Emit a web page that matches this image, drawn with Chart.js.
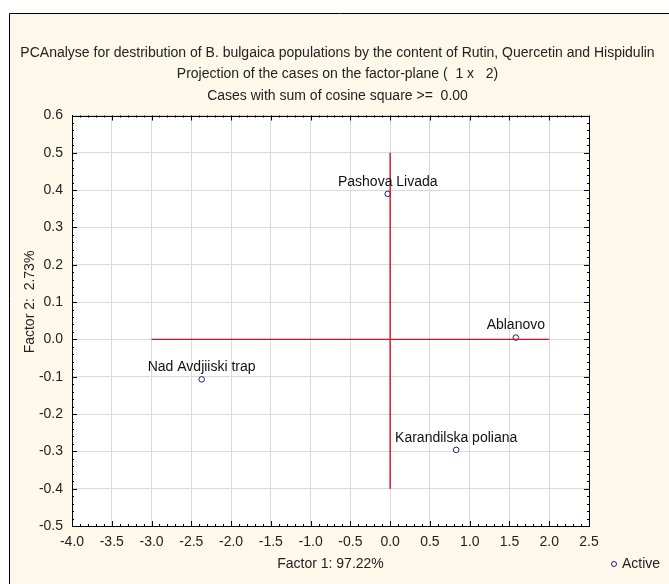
<!DOCTYPE html>
<html>
<head>
<meta charset="utf-8">
<script src="https://cdn.jsdelivr.net/npm/chart.js@4/dist/chart.umd.min.js"></script>
<style>
  html, body { margin: 0; padding: 0; background: #ffffff; }
  #wrap { width: 669px; height: 584px; position: relative; }
</style>
</head>
<body>
<div id="wrap"><canvas id="c" width="669" height="584"></canvas></div>
<script>
// Case names and their factor coordinates
const caseNames = ['Pashova Livada', 'Ablanovo', 'Nad Avdjiiski trap', 'Karandilska poliana'];
const factor1 = [-0.03, 1.58, -2.37, 0.83];
const factor2 = [0.39, 0.005, -0.107, -0.296];

// Reference cross through the origin
const crossX = [-3.0, 2.0];
const crossY = [-0.4, 0.5];

const titleLines = [
  'PCAnalyse for destribution of B. bulgaica populations by the content of Rutin, Quercetin and Hispidulin',
  'Projection of the cases on the factor-plane (  1 x   2)',
  'Cases with sum of cosine square >=  0.00'
];
const xTitle = 'Factor 1: 97.22%';
const yTitle = 'Factor 2:  2.73%';
const legendLabel = 'Active';

const FONT = 'Arial, "Liberation Sans", sans-serif';
const FSIZE = 14;
const pointColor = '#1c1c8a';
const crossColor = '#d4102a';

const casePoints = factor1.map((v, i) => ({ x: v, y: factor2[i] }));

// Page frame, cream panel and white plot area
const framePlugin = {
  id: 'frame',
  beforeDraw(chart) {
    const ctx = chart.ctx, a = chart.chartArea;
    ctx.save();
    ctx.fillStyle = '#ffffff';
    ctx.fillRect(0, 0, chart.width, chart.height);
    ctx.fillStyle = '#fdf8ea';
    ctx.fillRect(9, 13, chart.width - 9, chart.height - 13);
    ctx.strokeStyle = '#000';
    ctx.lineWidth = 1;
    ctx.beginPath();
    ctx.moveTo(9.5, chart.height);
    ctx.lineTo(9.5, 13.5);
    ctx.lineTo(chart.width, 13.5);
    ctx.stroke();
    ctx.fillStyle = '#ffffff';
    ctx.fillRect(a.left, a.top, a.right - a.left, a.bottom - a.top);
    ctx.restore();
  },
  afterDraw(chart) {
    const ctx = chart.ctx, a = chart.chartArea;
    const xs = chart.scales.x, ys = chart.scales.y;
    ctx.save();
    ctx.strokeStyle = '#000';
    ctx.lineWidth = 1;
    ctx.strokeRect(Math.round(a.left) + 0.5, Math.round(a.top) + 0.5,
      Math.round(a.right - a.left), Math.round(a.bottom - a.top));
    // major and minor tick marks on all four sides
    ctx.beginPath();
    for (let k = 0; k <= 65; k++) {
      const v = -4 + k * 0.1;
      const px = Math.round(xs.getPixelForValue(v)) + 0.5;
      const len = k % 5 === 0 ? 5 : 2;
      ctx.moveTo(px, a.bottom); ctx.lineTo(px, a.bottom - len);
      ctx.moveTo(px, a.top); ctx.lineTo(px, a.top + len);
    }
    for (let k = 0; k <= 55; k++) {
      const v = -0.5 + k * 0.02;
      const py = Math.round(ys.getPixelForValue(v)) + 0.5;
      const len = k % 5 === 0 ? 5 : 2;
      ctx.moveTo(a.left, py); ctx.lineTo(a.left + len, py);
      ctx.moveTo(a.right, py); ctx.lineTo(a.right - len, py);
    }
    ctx.stroke();

    ctx.font = FSIZE + 'px ' + FONT;
    ctx.fillStyle = '#222';
    ctx.textBaseline = 'middle';

    // vertical axis title
    ctx.save();
    ctx.translate(30, 302);
    ctx.rotate(-Math.PI / 2);
    ctx.textAlign = 'center';
    ctx.fillText(yTitle, 0, 0);
    ctx.restore();

    // legend
    const ly = 564;
    ctx.beginPath();
    ctx.arc(614, ly, 2.5, 0, Math.PI * 2);
    ctx.fillStyle = '#fff';
    ctx.fill();
    ctx.strokeStyle = pointColor;
    ctx.stroke();
    ctx.fillStyle = '#222';
    ctx.textAlign = 'left';
    ctx.fillText(legendLabel, 622, ly);
    ctx.restore();
  }
};

// Case names above their points
const caseLabelPlugin = {
  id: 'caseLabels',
  afterDatasetsDraw(chart) {
    const meta = chart.getDatasetMeta(2);
    const ctx = chart.ctx;
    ctx.save();
    ctx.font = FSIZE + 'px ' + FONT;
    ctx.fillStyle = '#111';
    ctx.textAlign = 'center';
    ctx.textBaseline = 'middle';
    meta.data.forEach((el, i) => {
      ctx.fillText(caseNames[i], el.x, el.y - 12);
    });
    ctx.restore();
  }
};

new Chart(document.getElementById('c'), {
  type: 'scatter',
  data: {
    datasets: [
      {
        type: 'line', label: 'h', data: crossX.map(v => ({ x: v, y: 0 })),
        borderColor: crossColor, borderWidth: 1.4, pointRadius: 0, fill: false
      },
      {
        type: 'line', label: 'v', data: crossY.map(v => ({ x: 0, y: v })),
        borderColor: crossColor, borderWidth: 1.4, pointRadius: 0, fill: false
      },
      {
        label: legendLabel, data: casePoints,
        pointRadius: 2.8, pointBorderWidth: 1,
        pointBorderColor: pointColor, pointBackgroundColor: '#ffffff'
      }
    ]
  },
  options: {
    responsive: false,
    animation: false,
    layout: { padding: { top: 0, left: 6, right: 0, bottom: 0 } },
    plugins: {
      legend: { display: false },
      tooltip: { enabled: false },
      title: {
        display: true,
        text: titleLines,
        color: '#222',
        font: { family: FONT, size: FSIZE, weight: 'normal', lineHeight: 1.536 },
        padding: { top: 42, bottom: 9 }
      }
    },
    scales: {
      x: {
        type: 'linear', min: -4, max: 2.5,
        afterFit(s) { s.height = 58; },
        ticks: {
          stepSize: 0.5, padding: 8, color: '#222', maxRotation: 0,
          font: { family: FONT, size: FSIZE },
          callback: v => v.toFixed(1)
        },
        grid: { color: '#dadada', drawTicks: false },
        border: { display: true, color: '#000' },
        title: {
          display: true, text: xTitle, color: '#222',
          font: { family: FONT, size: FSIZE }, padding: { top: 0, bottom: 11 }
        }
      },
      y: {
        type: 'linear', min: -0.5, max: 0.6,
        afterFit(s) { s.width = 66; },
        ticks: {
          stepSize: 0.1, padding: 9, color: '#222',
          font: { family: FONT, size: FSIZE },
          callback: v => v.toFixed(1)
        },
        grid: { color: '#dadada', drawTicks: false },
        border: { display: true, color: '#000' },
        title: { display: false }
      },
      // empty band on the right that holds the legend
      side: {
        type: 'linear', position: 'right', min: 0, max: 1,
        afterFit(s) { s.width = 80; },
        ticks: { display: false },
        grid: { display: false, drawTicks: false },
        border: { display: false }
      }
    }
  },
  plugins: [framePlugin, caseLabelPlugin]
});
</script>
</body>
</html>
